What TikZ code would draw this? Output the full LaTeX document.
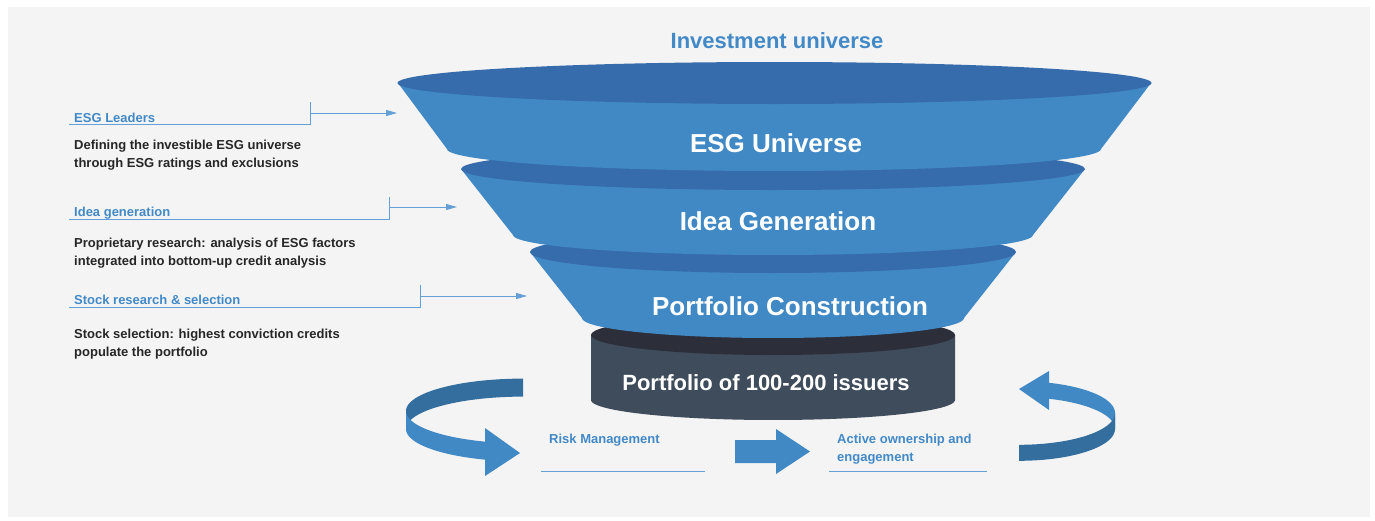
\documentclass[tikz,border=0pt]{standalone}
\usepackage{fontspec}
\setmainfont{Liberation Sans}
\usepackage{tikz}
\usetikzlibrary{arrows.meta}
\usetikzlibrary{positioning}
\definecolor{panel}{RGB}{244,244,244}
\definecolor{funnelside}{RGB}{65,137,197}
\definecolor{funneltop}{RGB}{55,108,172}
\definecolor{baseside}{RGB}{63,76,92}
\definecolor{basetop}{RGB}{44,47,58}
\definecolor{ribbonlight}{RGB}{65,137,197}
\definecolor{ribbondark}{RGB}{51,110,158}
\definecolor{labelblue}{RGB}{66,137,199}
\definecolor{leadline}{RGB}{100,160,215}
\definecolor{bodytext}{RGB}{38,38,38}

\begin{document}
\begin{tikzpicture}[x=1pt, y=-1pt,
    stage/.style={text=white, inner sep=0pt, font=\fontsize{26}{30}\selectfont\bfseries},
    headline/.style={text=labelblue, inner sep=0pt, font=\fontsize{22}{26}\selectfont\bfseries},
    tag/.style={text=labelblue, inner sep=0pt, align=left, font=\fontsize{13}{18}\selectfont\bfseries},
    note/.style={text=bodytext, inner sep=0pt, align=left, font=\fontsize{13}{18}\selectfont\bfseries},
    leadrule/.style={draw=leadline, line width=1pt},
    leadarrow/.style={draw=leadline, line width=1pt, -{Triangle[length=11pt, width=6pt]}}]
            \useasboundingbox                                          (0,0) rectangle (1375,520);
            \fill[white]                                               (0,0) rectangle (1375,520);
            \fill[panel]                                               (8,7) rectangle (1370,517);
            % base of the funnel
            \fill[baseside]   (591,335) -- (591,400) -- plot[domain=180:360, samples=50] ({773+182*cos(\x)},{400-20*sin(\x)}) -- (955,335) -- cycle;
            \fill[basetop]    (773,335) ellipse [x radius=182, y radius=20];
            % funnel, lowest part first
            \fill[funnelside] (530,252) -- (582,318) -- plot[domain=180:360, samples=50] ({773+191*cos(\x)},{318-20*sin(\x)}) -- (1016,252) -- cycle;
            \fill[funneltop]  (773,252) ellipse [x radius=243, y radius=21];
            \fill[funnelside] (461,169) -- (513,235) -- plot[domain=180:360, samples=50] ({773+260*cos(\x)},{235-20*sin(\x)}) -- (1085,169) -- cycle;
            \fill[funneltop]  (773,169) ellipse [x radius=312, y radius=21];
            \fill[funnelside] (398,83)  -- (447,149) -- plot[domain=180:360, samples=50] ({774+327*cos(\x)},{149-22*sin(\x)}) -- (1151,83) -- cycle;
            \fill[funneltop]  (774.5,83) ellipse [x radius=377, y radius=21];

            \node[headline] (universe) at (777,41)  {Investment universe};
            \node[stage]    (esg)      at (776,143) {ESG Universe};
            \node[stage]    (idea)     at (778,221) {Idea Generation};
            \node[stage]    (constr)   at (790,306) {Portfolio Construction};
            \node[stage, font=\fontsize{22}{26}\selectfont\bfseries] (issuers) at (766,383) {Portfolio of 100-200 issuers};

            % left hand notes
            \node[tag, anchor=base west]  (leaders)     at (74,122)   {ESG Leaders};
            \node[note, anchor=north west] (leadersnote) at (74,139.5) {Defining the investible ESG universe\\through ESG ratings and exclusions};
            \node[tag, anchor=base west]  (ideagen)     at (74,216)   {Idea generation};
            \node[note, anchor=north west] (ideagennote) at (74,237.5) {Proprietary research: analysis of ESG factors\\integrated into bottom-up credit analysis};
            \node[tag, anchor=base west]  (stock)       at (74,304.5) {Stock research \& selection};
            \node[note, anchor=north west] (stocknote)   at (74,328.5) {Stock selection: highest conviction credits\\populate the portfolio};

            \draw[leadrule] (69,124) -- (310,124) -- (310,102);
            \draw[leadrule] (69,219) -- (389,219) -- (389,197);
            \draw[leadrule] (69,307) -- (420,307) -- (420,285);
            \coordinate (leadersfrom) at (310,113);
            \coordinate (leadersto)   at (397,113);
            \coordinate (ideagenfrom) at (389,207);
            \coordinate (ideagento)   at (457,207);
            \coordinate (stockfrom)   at (420,296);
            \coordinate (stockto)     at (527,296);
            \draw[leadarrow] (leadersfrom) -- (leadersto);
            \draw[leadarrow] (ideagenfrom) -- (ideagento);
            \draw[leadarrow] (stockfrom)   -- (stockto);

            % bottom loop
            \fill[ribbondark]  plot[domain=90:180, samples=40] ({523+117*cos(\x)},{411-32.4*sin(\x)}) -- plot[domain=180:90, samples=40] ({523+117*cos(\x)},{429-32.4*sin(\x)}) -- cycle;
            \fill[ribbonlight] plot[domain=180:251, samples=40] ({523+117*cos(\x)},{411-32.4*sin(\x)}) -- plot[domain=251:180, samples=40] ({523+117*cos(\x)},{429-32.4*sin(\x)}) -- cycle;
            \fill[ribbonlight] (485,428) -- (520,453) -- (485,476) -- cycle;

            \fill[ribbonlight] (735,440) -- (776,440) -- (776,429) -- (810,451.5) -- (776,474) -- (776,463) -- (735,463) -- cycle;

            \fill[ribbonlight] plot[domain=72:0, samples=40] ({1019+96*cos(\x)},{413-31.8*sin(\x)}) -- plot[domain=0:72, samples=40] ({1019+96*cos(\x)},{429-31.8*sin(\x)}) -- cycle;
            \fill[ribbondark]  plot[domain=0:-90, samples=40] ({1019+96*cos(\x)},{413-31.8*sin(\x)}) -- plot[domain=-90:0, samples=40] ({1019+96*cos(\x)},{429-31.8*sin(\x)}) -- cycle;
            \fill[ribbonlight] (1049,371) -- (1019,389) -- (1049,410) -- cycle;

            \node[tag, anchor=base west]  (risk)   at (549,443)   {Risk Management};
            \node[tag, anchor=north west] (active) at (837,433.5) {Active ownership and\\engagement};
            \draw[leadrule] (541,471) -- (705,471);
            \draw[leadrule] (829,471) -- (987,471);
\end{tikzpicture}
\end{document}
